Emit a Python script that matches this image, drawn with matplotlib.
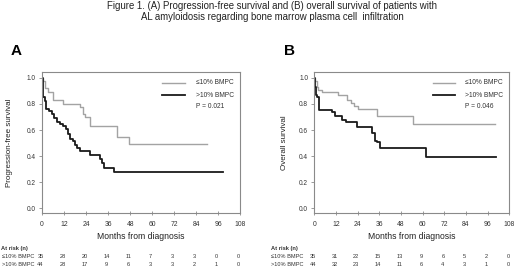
import matplotlib
matplotlib.use("Agg")
import matplotlib.pyplot as plt
import matplotlib.transforms as mtransforms

plt.rcParams['font.family'] = ['Liberation Sans', 'DejaVu Sans']

# Kaplan-Meier steps (months, survival)
a_low_t = [0, 0.6, 1.4, 3.5, 5.8, 11.3, 20.7, 22.2, 23.5, 26.2, 40.7, 47.6, 90.2]
a_low_s = [1.0, 0.975, 0.925, 0.89, 0.833, 0.80, 0.775, 0.725, 0.70, 0.635, 0.55, 0.495, 0.495]
a_high_t = [0, 0.4, 0.8, 1.4, 2.2, 3.8, 5.6, 6.5, 8.0, 9.8, 11.3, 12.9, 14.0, 15.3,
            16.7, 18.0, 19.3, 20.7, 26.2, 31.6, 32.6, 34.0, 39.3, 98.6]
a_high_s = [1.0, 0.93, 0.85, 0.82, 0.76, 0.745, 0.725, 0.69, 0.665, 0.65, 0.63, 0.61, 0.57, 0.53,
            0.515, 0.485, 0.465, 0.44, 0.41, 0.38, 0.345, 0.31, 0.28, 0.28]

b_low_t = [0, 0.4, 1.3, 2.2, 4.1, 13.3, 18.3, 20.1, 21.9, 24.4, 34.5, 54.8, 100.0]
b_low_s = [1.0, 0.977, 0.93, 0.905, 0.89, 0.866, 0.83, 0.81, 0.785, 0.76, 0.71, 0.65, 0.65]
b_high_t = [0, 0.4, 0.8, 1.7, 2.4, 2.8, 9.8, 11.6, 15.5, 17.4, 23.6, 32.0, 33.4, 34.7, 36.6, 61.7, 100.6]
b_high_s = [1.0, 0.93, 0.87, 0.855, 0.83, 0.755, 0.735, 0.71, 0.68, 0.66, 0.62, 0.58, 0.52, 0.505,
            0.465, 0.39, 0.39]

risk_months = [0, 12, 24, 36, 48, 60, 72, 84, 96, 108]
a_low_risk = [35, 28, 20, 14, 11, 7, 3, 3, 0, 0]
a_high_risk = [44, 28, 17, 9, 6, 3, 3, 2, 1, 0]
b_low_risk = [35, 31, 22, 15, 13, 9, 6, 5, 2, 0]
b_high_risk = [44, 32, 23, 14, 11, 6, 4, 3, 1, 0]

labels = ["\u226410% BMPC", ">10% BMPC"]
pvals = ["P = 0.021", "P = 0.046"]
ylabels = ["Progression-free survival", "Overall survival"]

gray = "#a3a3a3"
dark = "#1a1a1a"
txt = "#333333"

fig = plt.figure(figsize=(5.2, 2.71), dpi=100)
fig.patch.set_facecolor("white")

fig.text(0.523, 0.9797, "Figure 1. (A) Progression-free survival and (B) overall survival of patients with",
         ha="center", va="center", fontsize=6.9, color="#222222")
fig.text(0.523, 0.937, "AL amyloidosis regarding bone marrow plasma cell  infiltration",
         ha="center", va="center", fontsize=6.9, color="#222222")

panels = [
    (0.0808, 0.381, "A", 0.020, a_low_t, a_low_s, a_high_t, a_high_s, a_low_risk, a_high_risk, -0.144, 0.0),
    (0.6044, 0.375, "B", 0.546, b_low_t, b_low_s, b_high_t, b_high_s, b_low_risk, b_high_risk, -0.133, 0.519),
]

for i, (left, width, letter, lx, lt, ls, ht, hs, lrisk, hrisk, ylx, rx) in enumerate(panels):
    ax = fig.add_axes([left, 0.214, width, 0.520])
    ax.step(lt, ls, where="post", color=gray, lw=1.0)
    ax.step(ht, hs, where="post", color=dark, lw=1.3)
    ax.set_xlim(0, 108)
    ax.set_ylim(-0.035, 1.044)
    ax.set_xticks(risk_months)
    ax.set_yticks([0, 0.2, 0.4, 0.6, 0.8, 1.0])
    ax.set_yticklabels(["0.0", "0.2", "0.4", "0.6", "0.8", "1.0"])
    for sp in ax.spines.values():
        sp.set_color("#8a8a8a")
        sp.set_linewidth(0.8)
    ax.tick_params(axis="y", direction="out", length=2.5, width=0.6, colors="#8a8a8a",
                   labelsize=4.7, labelcolor=txt, pad=2)
    ax.tick_params(axis="x", direction="inout", length=3, width=0.6, colors="#8a8a8a",
                   labelsize=4.9, labelcolor=txt, pad=4)
    ax.set_ylabel(ylabels[i], fontsize=5.8, color="#222222")
    ax.yaxis.set_label_coords(ylx, 0.5)
    ax.set_xlabel("Months from diagnosis", fontsize=6.2, color="#222222")
    ax.xaxis.set_label_coords(0.5, -0.135)

    # legend drawn by hand
    ax.plot([0.607, 0.722], [0.924, 0.924], transform=ax.transAxes, color=gray, lw=1.0)
    ax.plot([0.607, 0.722], [0.837, 0.837], transform=ax.transAxes, color=dark, lw=1.3)
    ax.text(0.775, 0.924, labels[0], transform=ax.transAxes, fontsize=4.8, va="center", color=txt)
    ax.text(0.775, 0.837, labels[1], transform=ax.transAxes, fontsize=4.8, va="center", color=txt)
    ax.text(0.775, 0.754, pvals[i], transform=ax.transAxes, fontsize=4.8, va="center", color=txt)

    fig.text(lx, 0.8125, letter, fontsize=11, fontweight="bold", va="center", ha="left")

    # numbers at risk
    fig.text(rx + 0.002, 0.0838, "At risk (n)", fontsize=4.1, fontweight="bold", va="center", color=txt)
    fig.text(rx + 0.003, 0.0528, labels[0], fontsize=4.1, va="center", color=txt)
    fig.text(rx + 0.003, 0.0247, labels[1], fontsize=4.1, va="center", color=txt)
    tr = mtransforms.blended_transform_factory(ax.transData, fig.transFigure)
    for m, n1, n2 in zip(risk_months, lrisk, hrisk):
        ax.text(m - 0.8, 0.0528, str(n1), transform=tr, fontsize=4.1, ha="center", va="center",
                color=txt, clip_on=False)
        ax.text(m - 0.8, 0.0247, str(n2), transform=tr, fontsize=4.1, ha="center", va="center",
                color=txt, clip_on=False)

fig.savefig("out.png", dpi=100, facecolor="white")
